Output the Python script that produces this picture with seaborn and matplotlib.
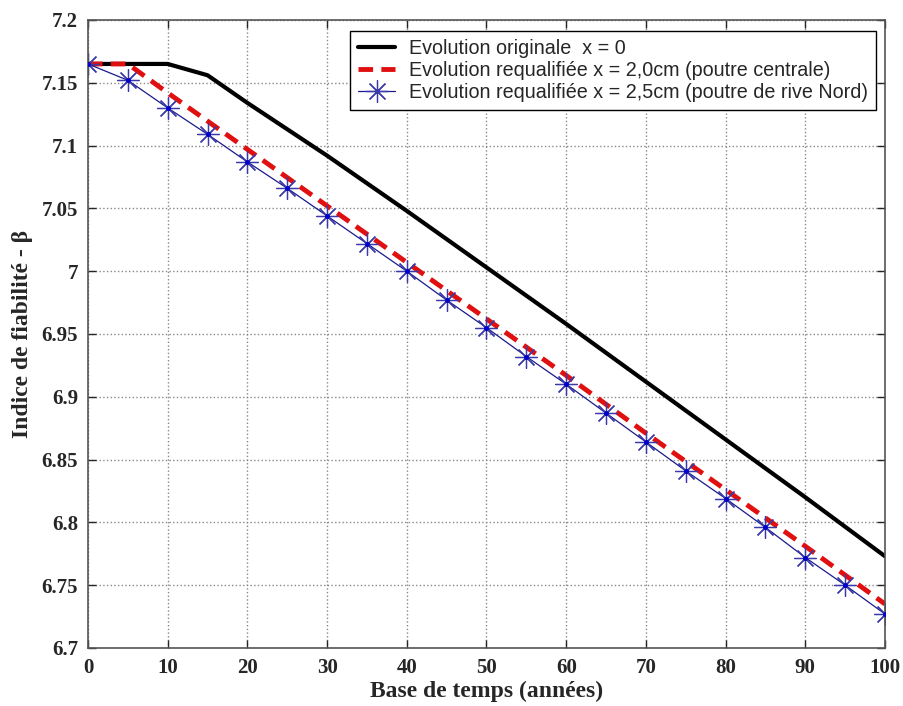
import pandas as pd
import matplotlib
matplotlib.use("Agg")
import matplotlib.pyplot as plt
import seaborn as sns

# Data
years_orig = [0, 10, 15, 20, 30, 40, 50, 60, 70, 80, 90, 100]
beta_orig = [7.165, 7.165, 7.156, 7.134, 7.092, 7.048, 7.003, 6.958, 6.912, 6.866, 6.820, 6.773]

years_req = [0, 5, 10, 20, 30, 40, 50, 60, 70, 80, 90, 100]
beta_req_20 = [7.165, 7.165, 7.142, 7.097, 7.052, 7.007, 6.962, 6.917, 6.871, 6.826, 6.781, 6.735]

years_star = list(range(0, 101, 5))
beta_req_25 = [7.165, 7.152, 7.130, 7.109, 7.087, 7.066, 7.044, 7.022, 7.000, 6.977,
               6.955, 6.932, 6.910, 6.887, 6.864, 6.841, 6.819, 6.796, 6.772, 6.750, 6.727]

labels = ["Evolution originale  x = 0",
          "Evolution requalifiée x = 2,0cm (poutre centrale)",
          "Evolution requalifiée x = 2,5cm (poutre de rive Nord)"]

sns.set_style("ticks")
plt.rcParams['font.family'] = ['Liberation Serif', 'DejaVu Serif']

fig = plt.figure(figsize=(9.04, 7.06), dpi=100)
ax = fig.add_axes([0.0973, 0.0822, 0.8817, 0.8895])

sns.lineplot(x=years_orig, y=beta_orig, ax=ax, color='black', linewidth=3, label=labels[0])
sns.lineplot(x=years_req, y=beta_req_20, ax=ax, color='#e01010', linewidth=3.5, linestyle='--',
             dashes=False, label=labels[1])
ax.lines[-1].set_linestyle((0, (3, 1.7)))
sns.lineplot(x=years_star, y=beta_req_25, ax=ax, color='#1a1a8c', linewidth=0.9, marker='*',
             markersize=0.1, label=labels[2])
ax.lines[-1].set_marker((8, 2, 0))
ax.lines[-1].set_markersize(16)
ax.lines[-1].set_markeredgewidth(0.9)
ax.lines[-1].set_markeredgecolor('#3a3aa8')
ax.scatter(years_star, beta_req_25, s=6, color='#0000cc', zorder=4)

ax.set_xlim(0, 100)
ax.set_ylim(6.7, 7.2)
ax.set_xticks(range(0, 101, 10))
ax.set_yticks([6.7, 6.75, 6.8, 6.85, 6.9, 6.95, 7.0, 7.05, 7.1, 7.15, 7.2])
ax.set_yticklabels(['6.7', '6.75', '6.8', '6.85', '6.9', '6.95', '7', '7.05', '7.1', '7.15', '7.2'])
ax.tick_params(direction='in', top=True, right=True, length=6, width=1, labelsize=15, pad=7)
for lab in ax.get_xticklabels() + ax.get_yticklabels():
    lab.set_fontweight('bold')
ax.grid(True, linestyle=':', color='#888888', linewidth=1)
for sp in ax.spines.values():
    sp.set_color('#555555')
    sp.set_linewidth(1.2)

ax.set_xlabel('Base de temps (années)', fontsize=17, fontweight='bold', labelpad=2)
ax.set_ylabel('Indice de fiabilité - β', fontsize=17, fontweight='bold', labelpad=6)

leg = ax.legend(loc='upper right', bbox_to_anchor=(0.9887, 0.9825), borderaxespad=0,
                prop={'family': ['Liberation Sans', 'DejaVu Sans'], 'size': 14.2},
                frameon=True, fancybox=False, edgecolor='black', framealpha=1,
                handlelength=1.9, borderpad=0.4, labelspacing=0.15, handletextpad=0.7)
leg.get_frame().set_linewidth(1)

fig.savefig('out.png', dpi=100)
